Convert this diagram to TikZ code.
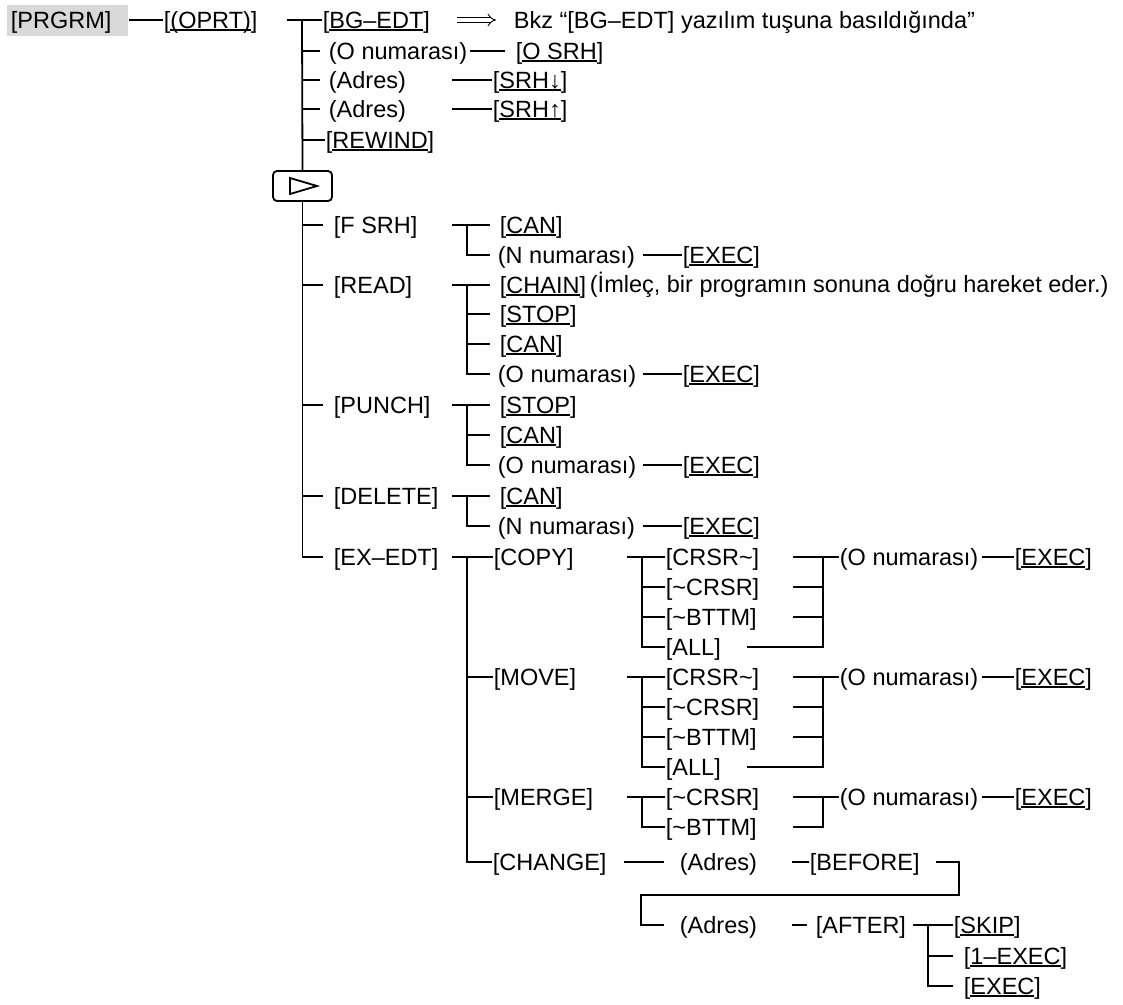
\documentclass[tikz,border=0pt]{standalone}
\usepackage{fontspec}
\setmainfont{Liberation Sans}
\usetikzlibrary{arrows.meta}
\definecolor{greybg}{RGB}{217,217,217}
\newcommand\fs{\fontsize{23.5}{27}\selectfont}
\newcommand\uln[1]{\setbox0=\hbox{#1}\leavevmode\rlap{\rule[-3pt]{\wd0}{1.8pt}}\box0}
\newcommand\tld{\textasciitilde}
\begin{document}
\begin{tikzpicture}[x=1pt,y=-1pt, line width=1.8pt,
  lbl/.style={anchor=west, inner sep=0pt, text height=16.8pt, text depth=0.3pt, font=\fs},
  greykey/.style={anchor=west, inner xsep=4pt, inner ysep=0pt, text width=113pt, minimum height=31pt, align=left, fill=greybg, text height=16.8pt, text depth=0.3pt, font=\fs},
  dblarrow/.style={double, double distance=3.5pt, line width=0.9pt, -{Implies}},
]
\useasboundingbox (0,0) rectangle (1123,1004);
% column coordinates
\coordinate (xAs) at (287,0);
\coordinate (xA) at (302,0);
\coordinate (xAe) at (320,0);
\coordinate (xAt) at (323,0);
\coordinate (xOs) at (470,0);
\coordinate (xOe) at (505,0);
\coordinate (xL1s) at (452,0);
\coordinate (xL1v) at (467,0);
\coordinate (xL1e) at (490,0);
\coordinate (xN1) at (643,0);
\coordinate (xL2s) at (627,0);
\coordinate (xL2v) at (642,0);
\coordinate (xR1b) at (747,0);
\coordinate (xR1) at (793,0);
\coordinate (xRv) at (823,0);
\coordinate (xO2) at (982,0);
\coordinate (xC1) at (624,0);
\coordinate (xC2) at (664,0);
\coordinate (xD1) at (792,0);
\coordinate (xD2) at (807,0);
\coordinate (xE1) at (936,0);
\coordinate (xE2) at (959,0);
\coordinate (xF) at (641,0);
\coordinate (xG1) at (913,0);
\coordinate (xGv) at (928,0);
\coordinate (xGe) at (953,0);
\coordinate (yK) at (0,895);
\coordinate (arrS) at (457,20);
\coordinate (arrE) at (496,20);

% top rows
\node[greykey] (prgrm) at (6,20) {[PRGRM]};
\node[lbl] (oprt) at (163,20) {[\uln{(OPRT)}]};
\node[lbl] (bgedt) at (322,20) {[\uln{BG–EDT}]};
\node[lbl] (bkz) at (513,20) {Bkz “[BG–EDT] yazılım tuşuna basıldığında”};
\node[lbl] (onum0) at (328,51) {(O numarası)};
\node[lbl] (osrh) at (515,51) {[\uln{O SRH}]};
\node[lbl] (adr1) at (328,80) {(Adres)};
\node[lbl] (srhd) at (492,80) {[\uln{SRH↓}]};
\node[lbl] (adr2) at (328,109) {(Adres)};
\node[lbl] (srhu) at (492,109) {[\uln{SRH↑}]};
\node[lbl] (rewind) at (325,140) {[\uln{REWIND}]};
\node[draw, rounded corners=4pt, minimum width=59pt, minimum height=30pt, inner sep=0pt] (play) at (302.5,186) {};
\draw[line join=miter] ([shift={(-12.5,-8)}]play.center) -- ([shift={(14.5,0)}]play.center) -- ([shift={(-12.5,8)}]play.center) -- cycle;

% level 1
\node[lbl] (fsrh) at (333,225) {[F SRH]};
\node[lbl] (can1) at (499,225) {[\uln{CAN}]};
\node[lbl] (nnum1) at (497,255) {(N numarası)};
\node[lbl] (exec1) at (682,255) {[\uln{EXEC}]};
\node[lbl] (read) at (333,285) {[READ]};
\node[lbl] (chain) at (499,285) {[\uln{CHAIN}]};
\node[lbl] (chnote) at (589,284) {(İmleç, bir programın sonuna doğru hareket eder.)};
\node[lbl] (stop1) at (499,314) {[\uln{STOP}]};
\node[lbl] (can2) at (499,344) {[\uln{CAN}]};
\node[lbl] (onum1) at (497,374) {(O numarası)};
\node[lbl] (exec2) at (682,374) {[\uln{EXEC}]};
\node[lbl] (punch) at (333,405) {[PUNCH]};
\node[lbl] (stop2) at (499,405) {[\uln{STOP}]};
\node[lbl] (can3) at (499,435) {[\uln{CAN}]};
\node[lbl] (onum2) at (497,465) {(O numarası)};
\node[lbl] (exec3) at (682,465) {[\uln{EXEC}]};
\node[lbl] (delete) at (333,496) {[DELETE]};
\node[lbl] (can4) at (499,496) {[\uln{CAN}]};
\node[lbl] (nnum2) at (497,526) {(N numarası)};
\node[lbl] (exec4) at (682,526) {[\uln{EXEC}]};
\node[lbl] (exedt) at (333,557) {[EX–EDT]};

% EX-EDT sub tree
\node[lbl] (copy) at (493,557) {[COPY]};
\node[lbl] (c1) at (665,557) {[CRSR\tld]};
\node[lbl] (c2) at (665,587) {[\tld CRSR]};
\node[lbl] (c3) at (665,617) {[\tld BTTM]};
\node[lbl] (c4) at (665,647) {[ALL]};
\node[lbl] (onumc) at (839,557) {(O numarası)};
\node[lbl] (execc) at (1014,557) {[\uln{EXEC}]};
\node[lbl] (move) at (493,677) {[MOVE]};
\node[lbl] (m1) at (665,677) {[CRSR\tld]};
\node[lbl] (m2) at (665,707) {[\tld CRSR]};
\node[lbl] (m3) at (665,737) {[\tld BTTM]};
\node[lbl] (m4) at (665,767) {[ALL]};
\node[lbl] (onumm) at (839,677) {(O numarası)};
\node[lbl] (execm) at (1014,677) {[\uln{EXEC}]};
\node[lbl] (merge) at (493,797) {[MERGE]};
\node[lbl] (g1) at (665,797) {[\tld CRSR]};
\node[lbl] (g2) at (665,827) {[\tld BTTM]};
\node[lbl] (onumg) at (839,797) {(O numarası)};
\node[lbl] (execg) at (1014,797) {[\uln{EXEC}]};
\node[lbl] (change) at (492,862) {[CHANGE]};
\node[lbl] (adr3) at (679,862) {(Adres)};
\node[lbl] (before) at (809,862) {[BEFORE]};
\node[lbl] (adr4) at (679,925) {(Adres)};
\node[lbl] (after) at (815,925) {[AFTER]};
\node[lbl] (skip) at (953,925) {[\uln{SKIP}]};
\node[lbl] (exec1x) at (963,956) {[\uln{1–EXEC}]};
\node[lbl] (execz) at (963,986) {[\uln{EXEC}]};

% connectors: top
\draw (prgrm.east) -- (oprt.west);
\draw (xAs |- bgedt) -- (bgedt.west);
\draw (xA |- bgedt) -- (play.north);
\draw[dblarrow] (arrS) -- (arrE);
\draw (xA |- onum0) -- (xAe |- onum0);
\draw (xA |- adr1) -- (xAe |- adr1);
\draw (xA |- adr2) -- (xAe |- adr2);
\draw (xA |- rewind) -- (rewind.west);
\draw (xOs |- onum0) -- (xOe |- onum0);
\draw (xL1s |- adr1) -- (srhd.west);
\draw (xL1s |- adr2) -- (srhu.west);

% main trunk below play key
\draw (play.south) |- (xAt |- exedt);
\draw (xA |- fsrh) -- (xAt |- fsrh);
\draw (xA |- read) -- (xAt |- read);
\draw (xA |- punch) -- (xAt |- punch);
\draw (xA |- delete) -- (xAt |- delete);

% F SRH
\draw (xL1s |- fsrh) -- (xL1e |- fsrh);
\draw (xL1v |- fsrh) |- (xL1e |- nnum1);
\draw (xN1 |- nnum1) -- (exec1.west);
% READ
\draw (xL1s |- read) -- (xL1e |- read);
\draw (xL1v |- read) |- (xL1e |- onum1);
\draw (xL1v |- stop1) -- (xL1e |- stop1);
\draw (xL1v |- can2) -- (xL1e |- can2);
\draw (xN1 |- onum1) -- (exec2.west);
% PUNCH
\draw (xL1s |- punch) -- (xL1e |- punch);
\draw (xL1v |- punch) |- (xL1e |- onum2);
\draw (xL1v |- can3) -- (xL1e |- can3);
\draw (xN1 |- onum2) -- (exec3.west);
% DELETE
\draw (xL1s |- delete) -- (xL1e |- delete);
\draw (xL1v |- delete) |- (xL1e |- nnum2);
\draw (xN1 |- nnum2) -- (exec4.west);
% EX-EDT
\draw (xL1s |- exedt) -- (copy.west);
\draw (xL1v |- exedt) |- (change.west);
\draw (xL1v |- move) -- (move.west);
\draw (xL1v |- merge) -- (merge.west);
% COPY
\draw (xL2s |- copy) -- (c1.west);
\draw (xL2v |- copy) |- (c4.west);
\draw (xL2v |- c2) -- (c2.west);
\draw (xL2v |- c3) -- (c3.west);
\draw (xR1 |- c1) -- (onumc.west);
\draw (xRv |- c1) |- (xR1b |- c4);
\draw (xR1 |- c2) -- (xRv |- c2);
\draw (xR1 |- c3) -- (xRv |- c3);
\draw (xO2 |- onumc) -- (execc.west);
% MOVE
\draw (xL2s |- move) -- (m1.west);
\draw (xL2v |- move) |- (m4.west);
\draw (xL2v |- m2) -- (m2.west);
\draw (xL2v |- m3) -- (m3.west);
\draw (xR1 |- m1) -- (onumm.west);
\draw (xRv |- m1) |- (xR1b |- m4);
\draw (xR1 |- m2) -- (xRv |- m2);
\draw (xR1 |- m3) -- (xRv |- m3);
\draw (xO2 |- onumm) -- (execm.west);
% MERGE
\draw (xL2s |- merge) -- (g1.west);
\draw (xL2v |- merge) |- (g2.west);
\draw (xR1 |- g1) -- (onumg.west);
\draw (xRv |- g1) |- (xR1 |- g2);
\draw (xO2 |- onumg) -- (execg.west);
% CHANGE
\draw (xC1 |- change) -- (xC2 |- change);
\draw (xD1 |- change) -- (before.west);
\draw (xE1 |- before) -| (xE2 |- yK) -| (xF |- adr4) -- (xC2 |- adr4);
\draw (xD1 |- adr4) -- (xD2 |- adr4);
\draw (xG1 |- after) -- (skip.west);
\draw (xGv |- after) |- (xGe |- execz);
\draw (xGv |- exec1x) -- (xGe |- exec1x);
\end{tikzpicture}
\end{document}
